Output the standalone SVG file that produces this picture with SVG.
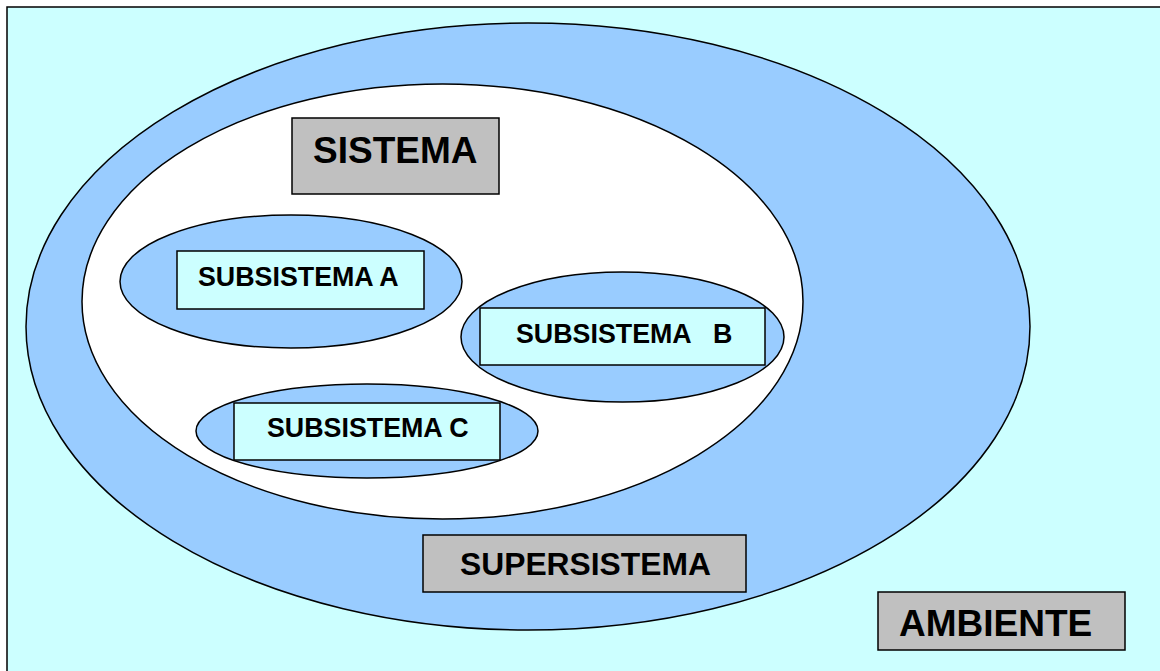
<svg xmlns="http://www.w3.org/2000/svg" width="1160" height="671" viewBox="0 0 1160 671">
  <style>
    .ln { stroke: #000; stroke-width: 1.5; }
    .env { fill: #CCFFFF; }
    .blue { fill: #99CCFF; }
    .white { fill: #FFFFFF; }
    .gray { fill: #C0C0C0; }
    .lbl { font-family: "Liberation Sans", Arial, sans-serif; font-weight: bold; fill: #000; }
  </style>

  <!-- environment -->
  <g id="ambiente-area">
    <rect class="env ln" x="7" y="7" width="1160" height="670"/>
  </g>

  <!-- supersystem -->
  <g id="supersistema-area">
    <ellipse class="blue ln" cx="528" cy="326.5" rx="502" ry="303.5"/>
  </g>

  <!-- system -->
  <g id="sistema-area">
    <ellipse class="white ln" cx="442.5" cy="301.5" rx="360.5" ry="217.5"/>
  </g>

  <g id="sistema">
    <rect class="gray ln" x="292" y="118" width="207" height="76"/>
    <text class="lbl" x="313" y="163" font-size="37">SISTEMA</text>
  </g>

  <g id="subsistema-a">
    <ellipse class="blue ln" cx="291" cy="281.5" rx="171" ry="66.5"/>
    <rect class="env ln" x="177" y="251" width="247" height="58"/>
    <text class="lbl" x="198" y="286" font-size="26.8">SUBSISTEMA A</text>
  </g>

  <g id="subsistema-b">
    <ellipse class="blue ln" cx="622.5" cy="337" rx="161.5" ry="65"/>
    <rect class="env ln" x="480" y="308" width="285" height="57"/>
    <text class="lbl" x="516" y="343" font-size="26.8" xml:space="preserve">SUBSISTEMA   B</text>
  </g>

  <g id="subsistema-c">
    <ellipse class="blue ln" cx="367" cy="431" rx="171" ry="47"/>
    <rect class="env ln" x="234" y="403" width="266" height="57"/>
    <text class="lbl" x="267" y="437" font-size="26.8">SUBSISTEMA C</text>
  </g>

  <g id="supersistema">
    <rect class="gray ln" x="423" y="535" width="323" height="57"/>
    <text class="lbl" x="460" y="575" font-size="31.8">SUPERSISTEMA</text>
  </g>

  <g id="ambiente">
    <rect class="gray ln" x="878" y="592" width="247" height="58"/>
    <text class="lbl" x="899" y="636" font-size="37">AMBIENTE</text>
  </g>

  <!-- no connectors in this diagram -->
  <g id="connectors"/>
</svg>
